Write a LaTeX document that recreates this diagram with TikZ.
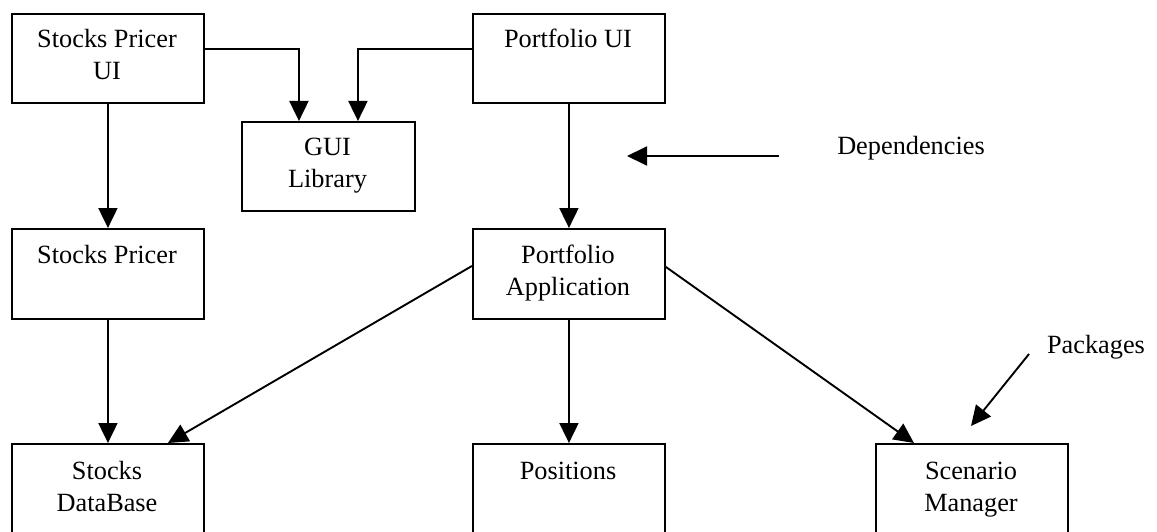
\documentclass[tikz,border=0pt]{standalone}
\usepackage{fontspec}
\setmainfont{Liberation Serif}
\usetikzlibrary{arrows.meta}
\begin{document}
\begin{tikzpicture}[x=1pt,y=-1pt,
  pkgbox/.style={draw, line width=1.9pt, rectangle, inner sep=0pt, anchor=north west},
  txt/.style={font=\fontsize{26.3}{32}\selectfont, inner sep=0pt, anchor=base},
  dep/.style={line width=1.9pt, -{Triangle[length=20pt,width=19pt]}}]
\useasboundingbox (0,0) rectangle (1157,532);
\clip (0,0) rectangle (1157,532);
% boxes
\node[pkgbox, minimum width=192pt, minimum height=89pt] (spui) at (11,13) {};
\node[pkgbox, minimum width=173pt, minimum height=89pt] (gui) at (241,121) {};
\node[pkgbox, minimum width=192pt, minimum height=89pt] (pui) at (472,13) {};
\node[pkgbox, minimum width=192pt, minimum height=90pt] (sp) at (11,228) {};
\node[pkgbox, minimum width=192pt, minimum height=90pt] (papp) at (472,228) {};
\node[pkgbox, minimum width=192pt, minimum height=91pt] (sdb) at (11,443) {};
\node[pkgbox, minimum width=192pt, minimum height=91pt] (pos) at (472,443) {};
\node[pkgbox, minimum width=192pt, minimum height=91pt] (sm) at (875,443) {};
% texts
\node[txt] (spuiA) at (107,47.5) {Stocks Pricer};
\node[txt] (spuiB) at (107,79.5) {UI};
\node[txt] (guiA) at (327.5,156) {GUI};
\node[txt] (guiB) at (327.5,188) {Library};
\node[txt] (puiA) at (568,47.5) {Portfolio UI};
\node[txt] (spA) at (107,263.5) {Stocks Pricer};
\node[txt] (pappA) at (568,263.5) {Portfolio};
\node[txt] (pappB) at (568,295.5) {Application};
\node[txt] (sdbA) at (107,479) {Stocks};
\node[txt] (sdbB) at (107,511) {DataBase};
\node[txt] (posA) at (568,479) {Positions};
\node[txt] (smA) at (971,479) {Scenario};
\node[txt] (smB) at (971,511) {Manager};
\node[txt] (deplbl) at (911,155) {Dependencies};
\node[txt] (pkglbl) at (1096,353) {Packages};
% connectors
\draw[dep] ([yshift=9.5pt]spui.east) -| ([xshift=-29.5pt]gui.north);
\draw[dep] ([yshift=9.5pt]pui.west) -| ([xshift=29.5pt]gui.north);
\draw[dep] (spui.south) -- (sp.north);
\draw[dep] (sp.south) -- (sdb.north);
\draw[dep] (pui.south) -- (papp.north);
\draw[dep] (papp.south) -- (pos.north);
\draw[dep] ([yshift=8pt]papp.west) -- ([xshift=60pt]sdb.north);
\draw[dep] ([yshift=7pt]papp.east) -- ([xshift=-58pt]sm.north);
\coordinate (depS) at (779,156);
\coordinate (depE) at (627,156);
\coordinate (pkS) at (1029,354);
\coordinate (pkE) at (971,426);
\draw[dep] (depS) -- (depE);
\draw[dep] (pkS) -- (pkE);
\end{tikzpicture}
\end{document}
